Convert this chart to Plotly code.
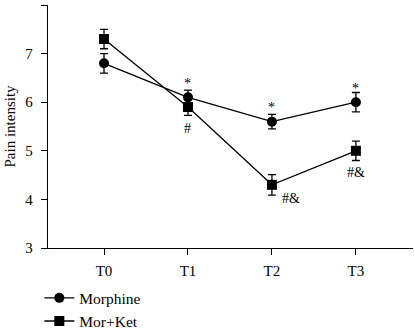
import plotly.graph_objects as go

categories = ["T0", "T1", "T2", "T3"]
morphine = [6.8, 6.1, 5.6, 6.0]
morphine_err = [0.2, 0.15, 0.15, 0.2]
morket = [7.3, 5.9, 4.3, 5.0]
morket_err = [0.2, 0.17, 0.21, 0.2]

# significance labels
star_pos = ["T1", "T2", "T3"]
star_val = [6.1, 5.6, 6.0]

FAM = "Liberation Serif, Times New Roman, serif"
font = dict(family=FAM, color="black", size=15)

fig = go.Figure()
fig.add_trace(go.Scatter(
    x=categories, y=morphine, name="Morphine", mode="lines+markers",
    line=dict(color="black", width=1.3),
    marker=dict(symbol="circle", size=10, color="black"),
    error_y=dict(type="data", array=morphine_err, color="black", thickness=1.3, width=4),
))
fig.add_trace(go.Scatter(
    x=categories, y=morket, name="Mor+Ket", mode="lines+markers",
    line=dict(color="black", width=1.3),
    marker=dict(symbol="square", size=10, color="black"),
    error_y=dict(type="data", array=morket_err, color="black", thickness=1.3, width=4),
))

ann_font = dict(family=FAM, color="#000000", size=14)
for c, v in zip(star_pos, star_val):
    fig.add_annotation(x=c, y=v, text="*", showarrow=False, yshift=14, font=ann_font)

fig.add_annotation(x="T1", y=morket[1], text="#", showarrow=False, yshift=-21, font=ann_font)
fig.add_annotation(x="T2", y=morket[2], text="#&", showarrow=False, xshift=19, yshift=-14, font=ann_font)
fig.add_annotation(x="T3", y=morket[3], text="#&", showarrow=False, yshift=-22, font=ann_font)

# y-axis title
fig.add_annotation(x=0, y=0.5, xref="paper", yref="paper", text="Pain intensity",
                   textangle=-90, showarrow=False, xanchor="center", yanchor="middle",
                   xshift=-39, font=dict(family=FAM, color="black", size=15))

fig.update_layout(
    width=414, height=329,
    margin=dict(l=48, r=1, t=5, b=81, autoexpand=False),
    paper_bgcolor="white", plot_bgcolor="white",
    font=font,
    showlegend=True,
    legend=dict(x=0.095, y=0.145, xref="container", yref="container",
                xanchor="left", yanchor="top",
                bgcolor="rgba(0,0,0,0)", font=dict(family=FAM, color="black", size=15.5),
                tracegroupgap=0, itemwidth=30),
    xaxis=dict(type="category", range=[-0.667, 3.68], showline=True, linecolor="black",
               linewidth=1.3, ticks="outside", ticklen=6, tickcolor="black", tickwidth=1.3,
               showgrid=False, zeroline=False, automargin=False, ticklabelstandoff=3,
               tickfont=dict(family=FAM, color="black", size=15)),
    yaxis=dict(range=[3, 8], dtick=1,
               showline=True, linecolor="black", linewidth=1.3,
               ticks="outside", ticklen=6, tickcolor="black", tickwidth=1.3,
               showgrid=False, zeroline=False, automargin=False, ticklabelstandoff=5,
               tickfont=dict(family=FAM, color="black", size=15)),
)

fig.write_html("out.html", config={"displayModeBar": False},
               post_script="document.body.style.margin='0';document.body.style.padding='0';")
